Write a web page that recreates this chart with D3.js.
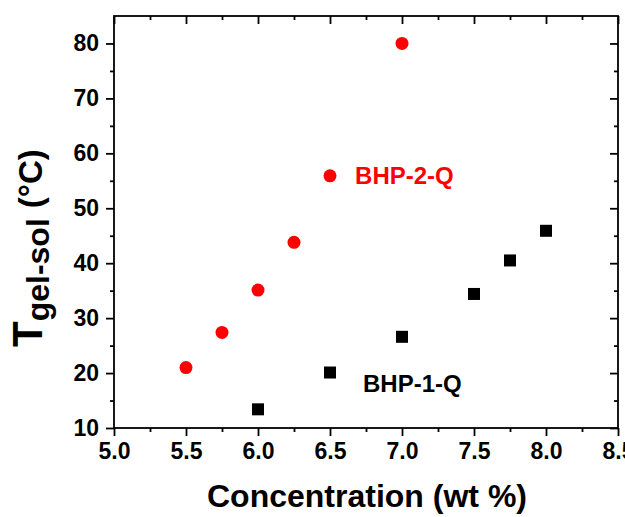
<!DOCTYPE html>
<html>
<head>
<meta charset="utf-8">
<script src="https://cdn.jsdelivr.net/npm/d3@7"></script>
<style>
html,body{margin:0;padding:0;background:#fff;}
svg{display:block;font-family:Arial,"Liberation Sans",sans-serif;font-weight:bold;}
</style>
</head>
<body>
<svg id="chart" width="625" height="517"></svg>
<script>
// Data
const bhp2Conc = [5.5, 5.75, 6.0, 6.25, 6.5, 7.0];
const bhp2Temp = [21.0, 27.4, 35.1, 43.8, 55.9, 80.0];
const bhp1Conc = [6.0, 6.5, 7.0, 7.5, 7.75, 8.0];
const bhp1Temp = [13.4, 20.1, 26.6, 34.4, 40.5, 45.9];
const xTicks = [5.0, 5.5, 6.0, 6.5, 7.0, 7.5, 8.0, 8.5];
const yTicks = [10, 20, 30, 40, 50, 60, 70, 80];
const seriesLabels = ["BHP-2-Q", "BHP-1-Q"];
const labelPos = [[6.674, 54.4], [6.729, 16.5]];

const svg = d3.select("#chart");
const L = 114, R = 618, T = 16, B = 428;
const x = d3.scaleLinear().domain([5.0, 8.5]).range([L, R]);
const y = d3.scaleLinear().domain([10, 85]).range([B, T]);

const xMinor = d3.range(5.25, 8.5, 0.5);
const yMinor = d3.range(15, 85, 10);

// axes
const fmtX = d3.format(".1f");
svg.append("g").attr("transform", `translate(0,${B})`)
  .call(d3.axisBottom(x).tickValues(xTicks).tickFormat(fmtX).tickSize(8).tickPadding(7));
svg.append("g").attr("transform", `translate(0,${B})`)
  .call(d3.axisBottom(x).tickValues(xMinor).tickFormat("").tickSize(4));
svg.append("g").attr("transform", `translate(${L},0)`)
  .call(d3.axisLeft(y).tickValues(yTicks).tickSize(8).tickPadding(7));
svg.append("g").attr("transform", `translate(${L},0)`)
  .call(d3.axisLeft(y).tickValues(yMinor).tickFormat("").tickSize(4));
svg.append("g").attr("transform", `translate(0,${T})`)
  .call(d3.axisBottom(x).tickValues(xTicks).tickFormat("").tickSize(8));
svg.append("g").attr("transform", `translate(0,${T})`)
  .call(d3.axisBottom(x).tickValues(xMinor).tickFormat("").tickSize(4));
svg.append("g").attr("transform", `translate(${R},0)`)
  .call(d3.axisLeft(y).tickValues(yTicks).tickFormat("").tickSize(8));
svg.append("g").attr("transform", `translate(${R},0)`)
  .call(d3.axisLeft(y).tickValues(yMinor).tickFormat("").tickSize(4));

svg.selectAll(".domain").remove();
svg.selectAll(".tick line").attr("stroke", "#000").attr("stroke-width", 1.8);
svg.selectAll(".tick text").attr("fill", "#000")
  .style("font-size", "23px").style("font-weight", "bold")
  .style("font-family", "Arial, 'Liberation Sans', sans-serif");

svg.append("rect").attr("x", L).attr("y", T).attr("width", R - L).attr("height", B - T)
  .attr("fill", "none").attr("stroke", "#000").attr("stroke-width", 1.8);

// points
svg.append("g").selectAll("circle").data(bhp2Conc).join("circle")
  .attr("cx", (d) => x(d)).attr("cy", (d, i) => y(bhp2Temp[i])).attr("r", 6.5)
  .attr("fill", "#ff0000");
const sq = 12;
svg.append("g").selectAll("rect").data(bhp1Conc).join("rect")
  .attr("x", (d) => x(d) - sq / 2).attr("y", (d, i) => y(bhp1Temp[i]) - sq / 2)
  .attr("width", sq).attr("height", sq).attr("fill", "#000");

// series labels
const labelColors = ["#ff0000", "#000000"];
svg.append("g").selectAll("text").data(seriesLabels).join("text")
  .attr("x", (d, i) => x(labelPos[i][0])).attr("y", (d, i) => y(labelPos[i][1]))
  .attr("fill", (d, i) => labelColors[i]).style("font-size", "24px").text((d) => d);

// axis titles
svg.append("text").attr("x", 367).attr("y", 507).attr("text-anchor", "middle")
  .style("font-size", "32px").text("Concentration (wt %)");

const yt = svg.append("text").attr("transform", "translate(42,347) rotate(-90)");
yt.append("tspan").style("font-size", "42px").text("T");
yt.append("tspan").attr("dy", 7).style("font-size", "32px").text("gel-sol");
yt.append("tspan").attr("dy", -7).attr("dx", 10).style("font-size", "33px").text("(°C)");
</script>
</body>
</html>
